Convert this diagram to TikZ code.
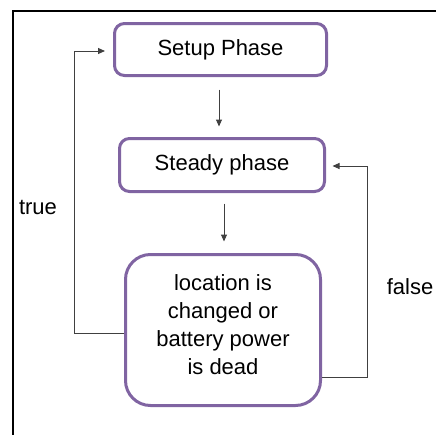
\documentclass[tikz,border=0pt]{standalone}
\usepackage{fontspec}
\setmainfont{Liberation Sans}
\usetikzlibrary{arrows.meta,calc}
\definecolor{boxpurple}{HTML}{8064A2}
\definecolor{linegray}{HTML}{404040}
\begin{document}
\begin{tikzpicture}[x=1pt,y=-1pt,
  font=\fontsize{22}{28}\selectfont,
  phase/.style={draw=boxpurple, line width=3pt, rounded corners=10pt, fill=white, align=center, inner sep=0pt},
  arr/.style={draw=linegray, line width=1pt, -{Triangle[length=7pt,width=6pt]}},
  lbl/.style={inner sep=1pt}]
\useasboundingbox (0,0) rectangle (436,434);
\draw[line width=1.8pt] (13,436) -- (13,11) -- (438,11);
\node[phase, minimum width=212pt, minimum height=52pt] (setup) at (220.5,49.5) {Setup Phase};
\node[phase, minimum width=205pt, minimum height=53pt] (steady) at (222,165) {Steady phase};
\node[phase, rounded corners=25pt, minimum width=195pt, minimum height=151pt, text depth=10pt] (big) at (223,330)
  {location is\\changed or\\battery power\\is dead};
\draw[arr] ($(setup.south)+(-1.5,12.5)$) -- ($(setup.south |- steady.north)+(-1.5,-10.5)$);
\draw[arr] ($(steady.south)+(2,10.5)$) -- ($(steady.south |- big.north)+(2,-11.5)$);
\draw[arr] ($(big.west)+(0,3)$) -- ++(-49.5,0) |- ($(setup.west)+(-8,1.5)$);
\draw[arr] ($(big.east)+(0,47)$) -- ++(45.5,0) |- ($(steady.east)+(6.5,1)$);
\node[lbl] (truelbl) at (38,207) {true};
\node[lbl] (falselbl) at (410,287) {false};
\end{tikzpicture}
\end{document}
